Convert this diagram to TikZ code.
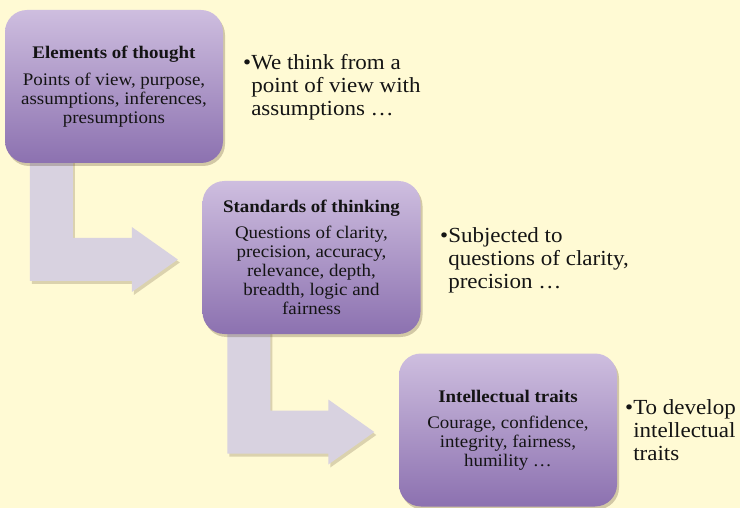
\documentclass[tikz,border=0pt]{standalone}
\usepackage{fontspec}
\setmainfont[FakeStretch=1.07]{Liberation Serif}
\usetikzlibrary{calc,shadows}
\pgfdeclarelayer{bg}
\pgfsetlayers{bg,main}
\definecolor{bgcream}{RGB}{255,250,212}
\definecolor{boxtop}{RGB}{206,190,223}
\definecolor{boxbot}{RGB}{140,113,176}
\definecolor{arrowfill}{RGB}{216,210,224}
\definecolor{inkc}{RGB}{20,20,20}
\tikzset{
  stagebox/.style={rounded corners=22pt, minimum width=218pt, minimum height=153pt,
    top color=boxtop, bottom color=boxbot, inner sep=0pt, align=center, text=inkc,
    font=\fontsize{17.7}{19}\selectfont,
    drop shadow={opacity=0.25, shadow xshift=2pt, shadow yshift=-3pt, fill=black!60!brown}},
  bullettext/.style={anchor=base west, inner sep=0pt, text=inkc,
    font=\fontsize{21.5}{23}\selectfont},
  arrowshadow/.style={drop shadow={opacity=0.2, shadow xshift=2pt, shadow yshift=-3pt, fill=black!60!brown}}
}
\newcommand\bentarrow[2]{%
  \fill[arrowfill, arrowshadow] let \p1=(#1.south west), \p2=(#2.west) in
    (\x1+25pt,\y1+13pt) -- (\x1+68pt,\y1+13pt) -- (\x1+68pt,\y2+19.5pt)
    -- (\x2-70.5pt,\y2+19.5pt) -- (\x2-70.5pt,\y2+30.5pt) -- (\x2-24.5pt,\y2-2pt)
    -- (\x2-70.5pt,\y2-34.5pt) -- (\x2-70.5pt,\y2-23.5pt) -- (\x1+25pt,\y2-23.5pt) -- cycle;}
\begin{document}
\begin{tikzpicture}[x=1pt,y=-1pt]
\useasboundingbox (0,0) rectangle (740,508);
\node[stagebox] (b1) at (114,86.5) {\textbf{Elements of thought}\\[8pt]
  Points of view, purpose,\\ assumptions, inferences,\\ presumptions};
\node[stagebox] (b2) at (311.5,257.5) {\textbf{Standards of thinking}\\[7pt]
  Questions of clarity,\\ precision, accuracy,\\ relevance, depth,\\ breadth, logic and\\ fairness};
\node[stagebox] (b3) at (508,430) {\textbf{Intellectual traits}\\[7pt]
  Courage, confidence,\\ integrity, fairness,\\ humility …};
\node[bullettext] (t1) at (243,70) {•\begin{tabular}[t]{@{}l@{}}We think from a\\ point of view with\\ assumptions …\end{tabular}};
\node[bullettext] (t2) at (440,243) {•\begin{tabular}[t]{@{}l@{}}Subjected to\\ questions of clarity,\\ precision …\end{tabular}};
\node[bullettext] (t3) at (625,414) {•\begin{tabular}[t]{@{}l@{}}To develop\\ intellectual\\ traits\end{tabular}};
\begin{pgfonlayer}{bg}
\fill[bgcream] (0,0) rectangle (740,508);
\bentarrow{b1}{b2}
\bentarrow{b2}{b3}
\end{pgfonlayer}
\end{tikzpicture}
\end{document}
